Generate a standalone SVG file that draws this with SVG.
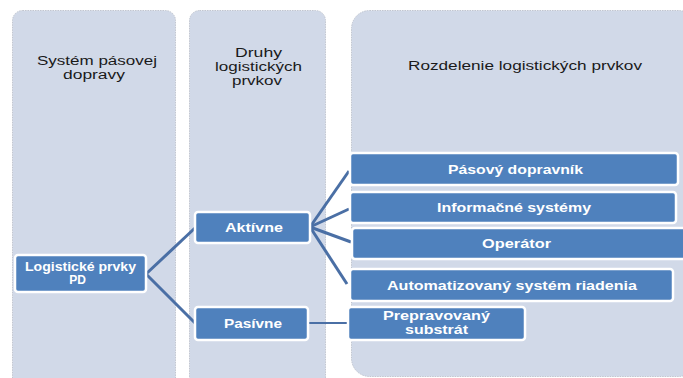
<svg xmlns="http://www.w3.org/2000/svg" width="683" height="378" viewBox="0 0 683 378">
<style>
.col{fill:#D1D9E8;stroke:#B8BCC6;stroke-width:0.8;stroke-dasharray:1.5 1}
.node{fill:#4F81BD;stroke:#FFFFFF;stroke-width:2.5}
.hdr{font-family:"Liberation Sans","Open Sans",sans-serif;font-size:12.5px;fill:#1A1A1A;text-anchor:middle}
.lbl{font-family:"Liberation Sans","Open Sans",sans-serif;font-size:12px;font-weight:bold;fill:#FFFFFF;text-anchor:middle}
.con{stroke:#4A6FA5;stroke-width:3;fill:none}
</style>
<rect width="683" height="378" fill="#FFFFFF"/>
<g id="col1"><rect class="col" x="12.5" y="10.5" width="163" height="380" rx="10"/><text class="hdr" x="97" y="65" textLength="120" lengthAdjust="spacingAndGlyphs">Systém pásovej</text><text class="hdr" x="94" y="79" textLength="62" lengthAdjust="spacingAndGlyphs">dopravy</text></g>
<g id="col2"><rect class="col" x="189.5" y="10.5" width="136" height="380" rx="10"/><text class="hdr" x="258.5" y="57" textLength="47" lengthAdjust="spacingAndGlyphs">Druhy</text><text class="hdr" x="258.5" y="71" textLength="87" lengthAdjust="spacingAndGlyphs">logistických</text><text class="hdr" x="257" y="85" textLength="50" lengthAdjust="spacingAndGlyphs">prvkov</text></g>
<g id="col3"><rect class="col" x="351.5" y="10.5" width="345" height="366" rx="18"/><text class="hdr" x="525" y="70" textLength="234" lengthAdjust="spacingAndGlyphs">Rozdelenie logistických prvkov</text></g>
<g id="connectors">
<line class="con" x1="146" y1="274" x2="195" y2="228"/>
<line class="con" x1="146" y1="274" x2="195" y2="323"/>
<line class="con" x1="310" y1="227" x2="349" y2="171"/>
<line class="con" x1="310" y1="227" x2="349" y2="209"/>
<line class="con" x1="310" y1="227" x2="351" y2="242"/>
<line class="con" x1="310" y1="227" x2="347" y2="284"/>
<line class="con" x1="308" y1="323" x2="348" y2="323" style="stroke-width:2.2"/>
</g>
<g id="n-logisticke"><rect class="node" x="15" y="255" width="131" height="37" rx="3"/><text class="lbl" x="80.5" y="271" textLength="111" lengthAdjust="spacingAndGlyphs">Logistické prvky</text><text class="lbl" x="77.5" y="284">PD</text></g>
<g id="n-aktivne"><rect class="node" x="195" y="212" width="115" height="31" rx="3"/><text class="lbl" x="254" y="232" textLength="58" lengthAdjust="spacingAndGlyphs">Aktívne</text></g>
<g id="n-pasivne"><rect class="node" x="195" y="307" width="113" height="33" rx="3"/><text class="lbl" x="253" y="328" textLength="58" lengthAdjust="spacingAndGlyphs">Pasívne</text></g>
<g id="n-pasovy"><rect class="node" x="350" y="153" width="328" height="32" rx="3"/><text class="lbl" x="515.5" y="174" textLength="135" lengthAdjust="spacingAndGlyphs">Pásový dopravník</text></g>
<g id="n-info"><rect class="node" x="350" y="192" width="326" height="31" rx="3"/><text class="lbl" x="514" y="212" textLength="154" lengthAdjust="spacingAndGlyphs">Informačné systémy</text></g>
<g id="n-operator"><rect class="node" x="352" y="228" width="335" height="31" rx="3"/><text class="lbl" x="516.5" y="248" textLength="69" lengthAdjust="spacingAndGlyphs">Operátor</text></g>
<g id="n-auto"><rect class="node" x="350" y="269" width="323" height="32" rx="3"/><text class="lbl" x="512" y="290" textLength="250" lengthAdjust="spacingAndGlyphs">Automatizovaný systém riadenia</text></g>
<g id="n-substrat"><rect class="node" x="348" y="307" width="177" height="33" rx="3"/><text class="lbl" x="436.5" y="320" textLength="107" lengthAdjust="spacingAndGlyphs">Prepravovaný</text><text class="lbl" x="436.5" y="334" textLength="63" lengthAdjust="spacingAndGlyphs">substrát</text></g>
</svg>
